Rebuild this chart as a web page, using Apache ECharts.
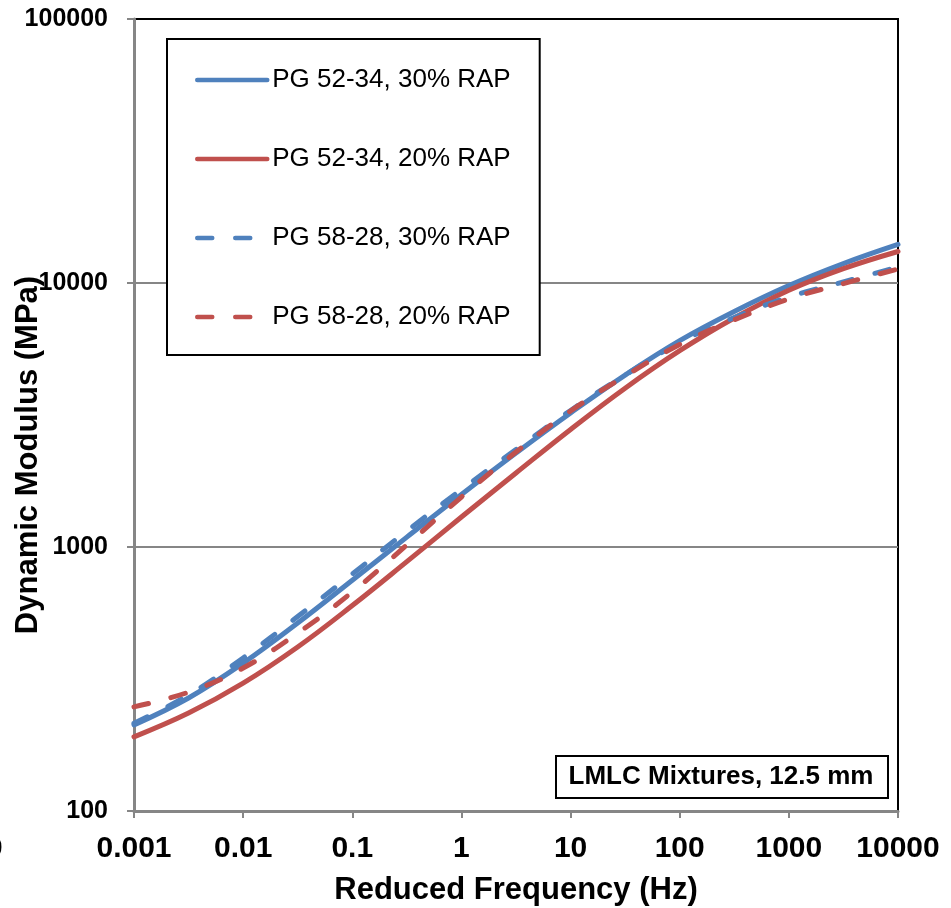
<!DOCTYPE html>
<html>
<head>
<meta charset="utf-8">
<script src="https://cdn.jsdelivr.net/npm/echarts@6/dist/echarts.min.js"></script>
<style>
html,body{margin:0;padding:0;background:#fff;}
#chart{width:951px;height:908px;}
</style>
</head>
<body>
<div id="chart"></div>
<script>
// Reduced frequency (Hz), half-decade steps
const frequencies = [0.001, 0.00316, 0.01, 0.0316, 0.1, 0.316, 1, 3.16, 10, 31.6, 100, 316, 1000, 3162, 10000];
// Dynamic modulus (MPa)
const pg5234_30 = [212, 268, 363, 515, 748, 1090, 1581, 2270, 3220, 4480, 6050, 7800, 9780, 11850, 14000];
const pg5234_20 = [191, 235, 305, 418, 600, 880, 1299, 1907, 2788, 3995, 5540, 7370, 9385, 11335, 13165];
const pg5828_30 = [215, 275, 380, 545, 790, 1150, 1650, 2340, 3290, 4480, 5950, 7400, 8850, 10090, 11500];
const pg5828_20 = [248, 282, 348, 472, 675, 1018, 1546, 2290, 3275, 4440, 5850, 7250, 8700, 9950, 11300];

const seriesNames = ['PG 52-34, 30% RAP', 'PG 52-34, 20% RAP', 'PG 58-28, 30% RAP', 'PG 58-28, 20% RAP'];
const xTickLabels = ['0.001', '0.01', '0.1', '1', '10', '100', '1000', '10000'];
const yTickLabels = ['100', '1000', '10000', '100000'];
const xTitle = 'Reduced Frequency (Hz)';
const yTitle = 'Dynamic Modulus (MPa)';
const noteText = 'LMLC Mixtures, 12.5 mm';

const FONT = '"Liberation Sans", Arial, Helvetica, sans-serif';
const BLUE = '#4F81BD', RED = '#C0504D', GRAY = '#868686';
const LW = 5;

function pairs(vals){ return frequencies.map((f,i)=>[f, vals[i]]); }

function mkSeries(name, vals, color, dashed){
  return {
    name: name, type: 'line', data: pairs(vals), smooth: 0.4,
    symbol: 'none', showSymbol: false,
    lineStyle: {color: color, width: LW, type: dashed ? [15, 23] : 'solid', cap: 'round', join: 'round'},
    itemStyle: {color: color},
    emphasis: {disabled: true}
  };
}

const chart = echarts.init(document.getElementById('chart'), null, {renderer: 'canvas'});
chart.setOption({
  animation: false,
  backgroundColor: '#fff',
  grid: {left: 134, right: 53, top: 19, bottom: 97, show: true, borderColor: '#000', borderWidth: 2, backgroundColor: 'transparent'},
  xAxis: {
    type: 'log', logBase: 10, min: 0.001, max: 10000, splitNumber: 7,
    axisLine: {show: true, lineStyle: {color: GRAY, width: 3}},
    axisTick: {show: true, length: 7, lineStyle: {color: GRAY, width: 2}},
    splitLine: {show: false},
    minorTick: {show: false},
    axisLabel: {
      margin: 23, fontSize: 30, fontWeight: 'bold', fontFamily: FONT, color: '#000',
      formatter: v => xTickLabels[Math.round(Math.log10(v)) + 3]
    }
  },
  yAxis: {
    type: 'log', logBase: 10, min: 100, max: 100000, splitNumber: 3,
    axisLine: {show: true, lineStyle: {color: GRAY, width: 3}},
    axisTick: {show: true, length: 7, lineStyle: {color: GRAY, width: 2}},
    splitLine: {show: true, lineStyle: {color: [GRAY, GRAY, GRAY, '#000'], width: 2}},
    axisLabel: {
      margin: 26, fontSize: 25, fontWeight: 'bold', fontFamily: FONT, color: '#000',
      formatter: v => yTickLabels[Math.round(Math.log10(v)) - 2]
    }
  },
  legend: {
    orient: 'vertical', left: 167, top: 39,
    padding: [26, 29, 23, 28],
    itemWidth: 70, itemHeight: 14, itemGap: 49,
    borderColor: '#000', borderWidth: 2, backgroundColor: '#fff',
    selectedMode: false,
    itemStyle: {opacity: 0, borderWidth: 0},
    lineStyle: {width: 4.5, cap: 'round'},
    textStyle: {fontSize: 26, lineHeight: 30, fontFamily: FONT, color: '#000'},
    data: seriesNames
  },
  series: [
    mkSeries(seriesNames[0], pg5234_30, BLUE, false),
    mkSeries(seriesNames[1], pg5234_20, RED, false),
    mkSeries(seriesNames[2], pg5828_30, BLUE, true),
    mkSeries(seriesNames[3], pg5828_20, RED, true)
  ],
  graphic: [
    {type: 'rect', left: 555, top: 755, z: 100,
      shape: {width: 332, height: 42},
      style: {fill: '#fff', stroke: '#000', lineWidth: 2}},
    {type: 'text', x: 721, y: 777, z: 101,
      style: {text: noteText, fill: '#000', font: 'bold 26px ' + FONT, textAlign: 'center', textVerticalAlign: 'middle'}},
    {type: 'text', x: 516, y: 890, z: 101,
      style: {text: xTitle, fill: '#000', font: 'bold 31px ' + FONT, textAlign: 'center', textVerticalAlign: 'middle'}},
    {type: 'text', x: 28, y: 455, rotation: Math.PI / 2, z: 101,
      style: {text: yTitle, fill: '#000', font: 'bold 31px ' + FONT, textAlign: 'center', textVerticalAlign: 'middle'}},
    {type: 'text', x: -14, y: 849, z: 101,
      style: {text: '0', fill: '#000', font: 'bold 30px ' + FONT, textAlign: 'left', textVerticalAlign: 'middle'}}
  ]
});
</script>
</body>
</html>
